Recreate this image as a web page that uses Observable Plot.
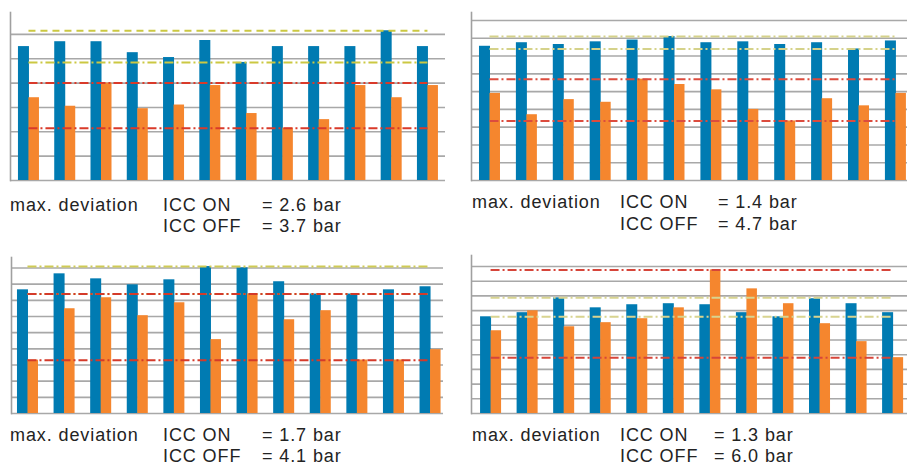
<!DOCTYPE html>
<html>
<head>
<meta charset="utf-8">
<script src="https://cdn.jsdelivr.net/npm/d3@7"></script>
<script src="https://cdn.jsdelivr.net/npm/@observablehq/plot@0.6"></script>
<style>
  html, body { margin: 0; padding: 0; background: #fff; }
  body { width: 914px; height: 469px; position: relative; overflow: hidden; font-family: "Liberation Sans", sans-serif; }
  .panel { position: absolute; }
  .cap { position: absolute; left: 0; top: 0; }
</style>
</head>
<body>
<script>
// ---------- data (bar) ----------
const categories = ["1","2","3","4","5","6","7","8","9","10","11","12"];

const p1On  = [11.0, 11.4, 11.4, 10.5, 10.1, 11.5, 9.7, 11.0, 11.0, 11.0, 12.3, 11.0];
const p1Off = [6.8, 6.1, 8.0, 5.9, 6.2, 7.8, 5.5, 4.3, 5.0, 7.8, 6.8, 7.8];

const p2On  = [15.1, 15.5, 15.3, 15.6, 15.8, 16.2, 15.5, 15.6, 15.3, 15.5, 14.8, 15.7];
const p2Off = [9.8, 7.4, 9.1, 8.8, 11.4, 10.8, 10.2, 8.0, 6.7, 9.2, 8.4, 9.8];

const p3On  = [7.65, 8.64, 8.33, 7.96, 8.27, 9.09, 9.01, 8.15, 7.39, 7.39, 7.65, 7.84];
const p3Off = [3.30, 6.48, 7.16, 6.05, 6.85, 4.57, 7.39, 5.80, 6.36, 3.31, 3.31, 3.95];

const p4On  = [6.58, 6.86, 7.87, 7.19, 7.40, 7.47, 7.40, 6.86, 6.58, 7.81, 7.47, 6.86];
const p4Off = [5.63, 6.99, 5.90, 6.18, 6.45, 7.19, 9.77, 8.48, 7.47, 6.11, 4.89, 3.80];

const gridStep = [2, 2, 1, 1];
const yMax = [13.8, 18.9, 9.65, 10.75];

const capLabel = "max. deviation";
const capOn = "ICC ON";
const capOff = "ICC OFF";
const devOn  = ["2.6", "1.4", "1.7", "1.3"];
const devOff = ["3.7", "4.7", "4.1", "6.0"];

// ---------- styles / layout ----------
const BLUE = "#007bb2", ORANGE = "#f5862e", GRID = "#a8a8a8";
const DASH = "7,5", DASHDOT = "9,3,2,3";

const panels = [
  {on: p1On, off: p1Off, left: 0, top: 0, width: 455, height: 185, mL: 10, mR: 10, mT: 12, mB: 5,
   pi: 0.421, po: 0.207, align: 0.53,
   onMaxStyle: {stroke: "#cbc842", dash: DASH}, onMinStyle: {stroke: "#cbc842", dash: DASHDOT},
   offStyle: {stroke: "#d93a2a", dash: DASHDOT},
   cap: {x0: 10, x1: 163, x2: 262, y1: 211, y2: 232}},
  {on: p2On, off: p2Off, left: 455, top: 0, width: 459, height: 185, mL: 16, mR: 7, mT: 12, mB: 5,
   pi: 0.431, po: 0.123, align: 0.88,
   onMaxStyle: {stroke: "#d5d28a", dash: DASHDOT}, onMinStyle: {stroke: "#d5d28a", dash: DASHDOT},
   offStyle: {stroke: "#dc4c3e", dash: DASHDOT},
   cap: {x0: 472, x1: 620, x2: 718, y1: 208, y2: 230}},
  {on: p3On, off: p3Off, left: 0, top: 250, width: 455, height: 168, mL: 11, mR: 12, mT: 7, mB: 5,
   pi: 0.426, po: 0.115, align: 0.71,
   onMaxStyle: {stroke: "#cfcb55", dash: DASHDOT}, onMinStyle: {stroke: "#cfcb55", dash: DASHDOT},
   offStyle: {stroke: "#d43a2a", dash: DASHDOT},
   cap: {x0: 10, x1: 163, x2: 262, y1: 441, y2: 462}},
  {on: p4On, off: p4Off, left: 455, top: 250, width: 459, height: 168, mL: 16, mR: 7, mT: 5, mB: 5,
   pi: 0.425, po: 0.177, align: 0.70,
   onMaxStyle: {stroke: "#d8d490", dash: DASHDOT}, onMinStyle: {stroke: "#d8d490", dash: DASHDOT},
   offStyle: {stroke: "#d6453a", dash: DASHDOT},
   cap: {x0: 472, x1: 620, x2: 714, y1: 441, y2: 462}}
];

panels.forEach((p, k) => {
  const data = categories.map((c, i) => ({c, on: p.on[i], off: p.off[i]}));
  const n = categories.length;
  const step = (p.width - p.mL - p.mR) / (n - p.pi + 2 * p.po);
  const bw = step * (1 - p.pi);
  const grid = d3.range(0, yMax[k], gridStep[k]);
  const first = categories[0], last = categories[n - 1];
  const lineOpts = (s) => ({x1: () => first, x2: () => last, stroke: s.stroke, strokeWidth: 2,
                            strokeDasharray: s.dash, insetLeft: bw / 2, insetRight: bw / 2});
  const chart = Plot.plot({
    width: p.width, height: p.height,
    marginLeft: p.mL, marginRight: p.mR, marginTop: p.mT, marginBottom: p.mB,
    x: {type: "band", domain: categories, paddingInner: p.pi, paddingOuter: p.po, align: p.align, round: false, axis: null},
    y: {domain: [0, yMax[k]], axis: null},
    marks: [
      Plot.ruleY(grid, {stroke: GRID, strokeWidth: 1.6}),
      Plot.frame({anchor: "left", stroke: "#a0a0a0", strokeWidth: 1.6}),
      Plot.barY(data, {x: "c", y: "on", fill: BLUE, insetRight: bw / 2 - 0.5}),
      Plot.barY(data, {x: "c", y: "off", fill: ORANGE, insetLeft: bw / 2}),
      Plot.ruleY([d3.max(p.on)], lineOpts(p.onMaxStyle)),
      Plot.ruleY([d3.min(p.on)], lineOpts(p.onMinStyle)),
      Plot.ruleY([d3.max(p.off)], lineOpts(p.offStyle)),
      Plot.ruleY([d3.min(p.off)], lineOpts(p.offStyle))
    ]
  });
  const div = document.createElement("div");
  div.className = "panel";
  div.style.left = p.left + "px";
  div.style.top = p.top + "px";
  div.appendChild(chart);
  document.body.appendChild(div);
});

// captions
const capSvg = d3.select(document.body).append("svg")
  .attr("class", "cap").attr("width", 914).attr("height", 469)
  .style("pointer-events", "none");
panels.forEach((p, k) => {
  const c = p.cap;
  const g = capSvg.append("g")
    .attr("font-family", "'Liberation Sans', sans-serif")
    .attr("font-size", 18)
    .attr("letter-spacing", 0.9)
    .attr("fill", "#232323");
  g.append("text").attr("x", c.x0).attr("y", c.y1).text(capLabel);
  g.append("text").attr("x", c.x1).attr("y", c.y1).text(capOn);
  g.append("text").attr("x", c.x2).attr("y", c.y1).text(`= ${devOn[k]} bar`);
  g.append("text").attr("x", c.x1).attr("y", c.y2).text(capOff);
  g.append("text").attr("x", c.x2).attr("y", c.y2).text(`= ${devOff[k]} bar`);
});
</script>
</body>
</html>
